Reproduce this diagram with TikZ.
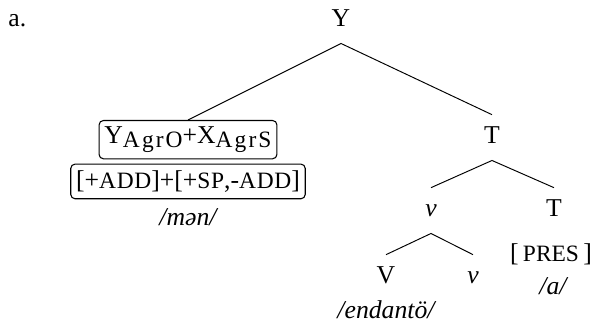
\documentclass[tikz,border=0pt,12pt]{standalone}
\usepackage{fontspec}
\setmainfont{Liberation Serif}
\usetikzlibrary{positioning}
\newcommand{\agrsub}[1]{\raisebox{-0.3ex}{\small\addfontfeature{LetterSpace=9}#1}}
\newcommand{\feat}[1]{{\small\addfontfeature{LetterSpace=3}#1}}
\tikzset{
cat/.style={inner sep=5.5pt, text height=8pt, text depth=2pt, anchor=base},
gloss/.style={inner sep=0pt, anchor=base, font=\itshape},
featbox/.style={draw, rounded corners=2pt, inner xsep=2.5pt, inner ysep=3pt, line width=0.5pt},
branch/.style={line width=0.45pt}
}

\begin{document}
\begin{tikzpicture}[x=0.4672pt,y=-0.4672pt]
\useasboundingbox (0,0) rectangle (594,329);
\node[anchor=base west,inner sep=0pt] (ex) at (8,27) {a.};

% root
\node[cat] (Y) at (341,27) {Y};

% left daughter: agreement cluster
\node[featbox,anchor=north] (agr) at (188,120) {Y\agrsub{AgrO}+X\agrsub{AgrS}};
\node[featbox,below=2pt of agr] (feat) {[+\feat{ADD}]+[+\feat{SP},-\feat{ADD}]};
\node[gloss] (men) at (188,226) {/mən/};

% right daughter
\node[cat] (T) at (492,144) {T};
\node[cat] (vsmall) at (431,217) {\textit{v}};
\node[cat] (Tlow) at (554,217) {T};
\node[gloss,font=\upshape] (pres) at (551,262) {[\,{\small PRES}\,]};
\node[gloss] (tense) at (553,295) {/a/};
\node[cat] (V) at (386,284) {V};
\node[cat] (vhead) at (473,284) {\textit{v}};
\node[gloss] (stem) at (386,319) {/endantö/};

% branches
\draw[branch] (agr.north) -- (Y.south) -- (T.north);
\draw[branch] (vsmall.north) -- (T.south) -- (Tlow.north);
\draw[branch] (V.north) -- (vsmall.south) -- (vhead.north);
\end{tikzpicture}
\end{document}
